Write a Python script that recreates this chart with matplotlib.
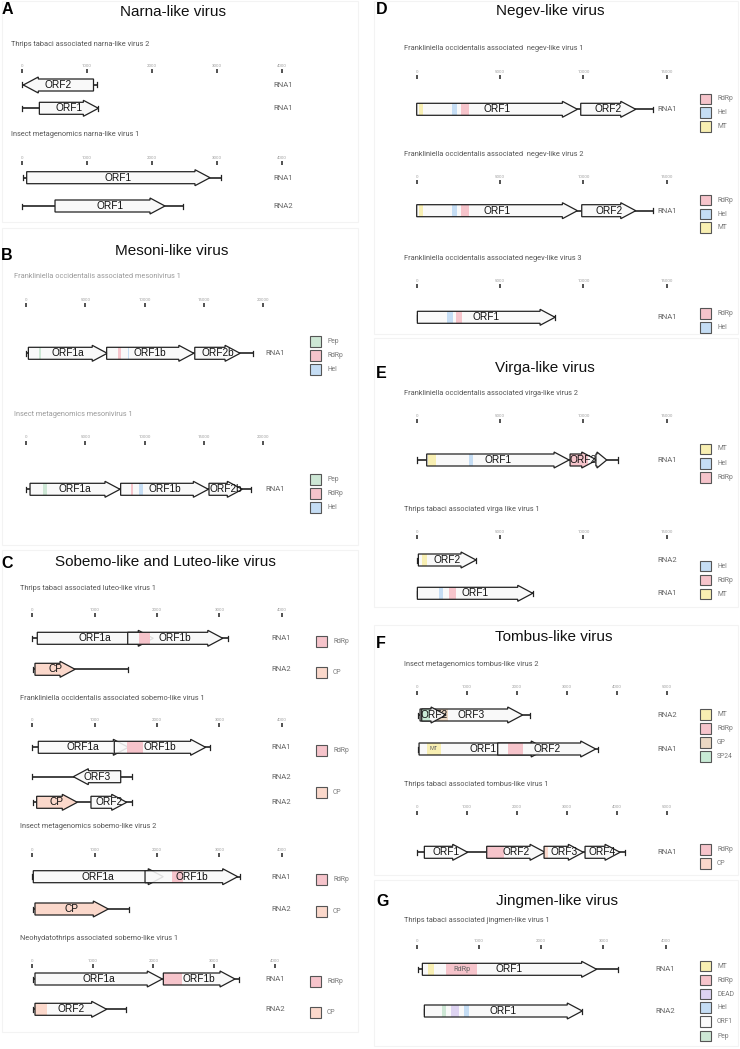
import numpy as np
import matplotlib
matplotlib.use("Agg")
import matplotlib.pyplot as plt
from matplotlib.patches import Polygon, Rectangle

W, H = 740, 1049

# colours of the annotated domains
DOMAIN_COLORS = {
    "RdRp": "#f6c4cb",
    "Hel": "#c5ddf4",
    "MT": "#f8efb2",
    "Pep": "#cde7d5",
    "CP": "#fbd8cb",
    "DEAD": "#ddd3f1",
    "GP": "#ebd8c3",
    "SP24": "#c9ebd6",
    "ORF1": "#fafafa",
}

# ---------------- data (nt positions) ----------------
# each row: (segment, (line start, line end), [(orf, start, end, strand, [(domain, start, end)])])

# A  Narna-like virus
narna_tt2_rows = [
    ("RNA1", (0, 1150), [("ORF2", 20, 1100, -1, [])]),
    ("RNA1", (0, 1175), [("ORF1", 267, 1175, 1, [])]),
]
narna_im1_rows = [
    ("RNA1", (10, 3060), [("ORF1", 72, 2892, 1, [])]),
    ("RNA2", (0, 2470), [("ORF1", 508, 2200, 1, [])]),
]

# B  Mesoni-like virus
meso_fo1_rows = [
    ("RNA1", (0, 19160), [("ORF1a", 200, 6850, 1, [("Pep", 1120, 1270)]),
                          ("ORF1b", 6800, 14150, 1, [("RdRp", 7780, 7980), ("Hel", 8570, 8680)]),
                          ("ORF2b", 14230, 18050, 1, [])]),
]
meso_im1_rows = [
    ("RNA1", (0, 19000), [("ORF1a", 340, 7925, 1, [("Pep", 1470, 1750)]),
                          ("ORF1b", 7980, 15375, 1, [("RdRp", 8830, 9050), ("Hel", 9550, 9890)]),
                          ("ORF2b", 15430, 18240, 1, [])]),
]
meso_legend = ["Pep", "RdRp", "Hel"]

# C  Sobemo-like and Luteo-like virus
luteo_tt1_rows = [
    ("RNA1", (0, 3133), [("ORF1a", 80, 1940, 1, []),
                         ("ORF1b", 1530, 3055, 1, [("RdRp", 1716, 1888)])]),
    ("RNA2", (16, 1540), [("CP", 43, 686, 1, [("CP", 43, 686)])]),
]
sobemo_fo1_rows = [
    ("RNA1", (0, 2850), [("ORF1a", 96, 1540, 1, []),
                         ("ORF1b", 1315, 2780, 1, [("RdRp", 1514, 1770)])]),
    ("RNA2", (0, 1604), [("ORF3", 658, 1418, -1, [])]),
    ("RNA2", (16, 1604), [("CP", 70, 722, 1, [("CP", 70, 722)]),
                          ("ORF2", 941, 1514, 1, [])]),
]
sobemo_im2_rows = [
    ("RNA1", (0, 3330), [("ORF1a", 16, 2100, 1, []),
                         ("ORF1b", 1808, 3294, 1, [("RdRp", 2236, 2420)])]),
    ("RNA2", (16, 1545), [("CP", 43, 1219, 1, [("CP", 43, 1219)])]),
]
sobemo_nh1_rows = [
    ("RNA1", (26, 3415), [("ORF1a", 54, 2148, 1, []),
                          ("ORF1b", 2165, 3344, 1, [("RdRp", 2165, 2467)])]),
    ("RNA2", (26, 1551), [("ORF2", 54, 1233, 1, [("CP", 54, 256)])]),
]
sobemo_legend = ["RdRp", "CP"]

# D  Negev-like virus
negev1_rows = [
    ("RNA1", (0, 14200), [("ORF1", 0, 9640, 1, [("MT", 160, 400), ("Hel", 2100, 2440), ("RdRp", 2640, 3120)]),
                          ("ORF2", 9840, 13140, 1, [])]),
]
negev2_rows = [
    ("RNA1", (0, 14200), [("ORF1", 0, 9640, 1, [("MT", 160, 400), ("Hel", 2100, 2440), ("RdRp", 2640, 3120)]),
                          ("ORF2", 9900, 13140, 1, [])]),
]
negev3_rows = [
    ("RNA1", (40, 8300), [("ORF1", 40, 8300, 1, [("Hel", 1840, 2160), ("RdRp", 2360, 2700)])]),
]
negev_legend = ["RdRp", "Hel", "MT"]

# E  Virga-like virus
virga_fo2_rows = [
    ("RNA1", (0, 12100), [("ORF1", 600, 9140, 1, [("MT", 700, 1140), ("Hel", 3120, 3360)]),
                          ("ORF2", 9200, 10800, 1, [("RdRp", 9200, 10300)]),
                          ("", 10750, 11400, 1, [])]),
]
virga_tt1_rows = [
    ("RNA2", (0, 3560), [("ORF2", 100, 3560, 1, [("MT", 300, 640)])]),
    ("RNA1", (40, 6960), [("ORF1", 40, 6960, 1, [("Hel", 1360, 1600), ("RdRp", 1940, 2340)])]),
]

# F  Tombus-like virus
tombus_im2_rows = [
    ("RNA2", (20, 2267), [("ORF3", 67, 2120, 1, [("GP", 433, 633)]),
                          ("ORF2", 100, 587, 1, [("SP24", 100, 267)])]),
    ("RNA1", (20, 3633), [("ORF1", 47, 2590, 1, [("MT", 200, 487)]),
                          ("ORF2", 1620, 3580, 1, [("RdRp", 1833, 2120)])]),
]
tombus_tt1_rows = [
    ("RNA1", (0, 4167), [("ORF1", 153, 1020, 1, []),
                         ("ORF2", 1400, 2567, 1, [("RdRp", 1400, 1753)]),
                         ("ORF3", 2547, 3333, 1, [("CP", 2547, 2620)]),
                         ("ORF4", 3367, 4067, 1, [])]),
]

# G  Jingmen-like virus
jingmen_tt1_rows = [
    ("RNA1", (16, 3240), [("ORF1", 91, 2893, 1, [("MT", 187, 284), ("RdRp", 466, 975)])]),
    ("RNA2", (123, 2662), [("ORF1", 123, 2662, 1, [("Pep", 402, 471), ("DEAD", 552, 686), ("Hel", 761, 841)])]),
]
jingmen_legend = ["MT", "RdRp", "DEAD", "Hel", "ORF1", "Pep"]

# domains that carry a small label inside the box
LABELLED_DOMAINS = {("tombus_im2", "MT"), ("jingmen_tt1", "RdRp")}

# ---------------- drawing ----------------
plt.rcParams['font.family'] = ['Roboto', 'DejaVu Sans']
fig = plt.figure(figsize=(W / 100, H / 100), dpi=100)

BH = 6.0      # half height of an ORF body (px)
HH = 8.0      # half height of the arrow head (px)
HEAD_PX = 15  # arrow head length (px)


def ftext(x, y, s, **kw):
    return fig.text(x / W, 1 - y / H, s, **kw)


def frect(x, y, w, h, **kw):
    r = Rectangle((x / W, 1 - (y + h) / H), w / W, h / H, transform=fig.transFigure, **kw)
    fig.add_artist(r)
    return r


def arrow_xy(a, b, strand, y, s):
    hl = min(HEAD_PX / s, 0.9 * (b - a))
    if strand > 0:
        n = b - hl
        xs = [a, n, n, b, n, n, a]
    else:
        n = a + hl
        xs = [b, n, n, a, n, n, b]
    ys = [y - BH, y - BH, y - HH, y, y + HH, y + BH, y + BH]
    return np.column_stack([xs, ys])


def draw_block(key, title, rows, lay, legend=None, legend_ys=None):
    origin, per1000, step, tmax = lay["scale"]
    rule_y = lay["rule"]
    s = per1000 / 1000.0
    last = max(lay["rows"]) + 14

    ftext(lay["sub"][0], lay["sub"][1], title, fontsize=5.3, color=lay.get("subc", "#555555"),
          va="center", ha="left")

    ax = fig.add_axes([origin / W, 1 - last / H, tmax * s / W, (last - rule_y) / H])
    ax.set_xlim(0, tmax)
    ax.set_ylim(last - rule_y, 0)
    ax.xaxis.tick_top()
    ax.set_xticks(np.arange(0, tmax + 1, step))
    ax.tick_params(axis='x', top=True, bottom=False, length=2.6, width=1.1, color='#222222',
                   labelsize=3.2, labelcolor='#a0a0a0', pad=1.3)
    ax.set_yticks([])
    for sp in ax.spines.values():
        sp.set_visible(False)
    ax.patch.set_visible(False)

    for (seg, (g0, g1), orfs), ry in zip(rows, lay["rows"]):
        y = ry - rule_y
        ax.plot([g0, g1], [y, y], color='#222222', lw=1.2, zorder=1, solid_capstyle='butt', clip_on=False)
        for g in (g0, g1):
            ax.plot([g, g], [y - 2.5, y + 2.5], color='#222222', lw=0.9, zorder=1, clip_on=False)
        # white underlay so the genome line doesn't show through the ORFs
        for (lab, a, b, strand, doms) in orfs:
            ax.add_patch(Polygon(arrow_xy(a, b, strand, y, s), closed=True, fc='white', ec='none',
                                 zorder=1.5, clip_on=False))
        for i, (lab, a, b, strand, doms) in enumerate(orfs):
            z = 2 + 3 * i
            xy = arrow_xy(a, b, strand, y, s)
            body = Polygon(xy, closed=True, fc='#f9f9f9', ec='none', alpha=0.88, zorder=z, clip_on=False)
            ax.add_patch(body)
            for dname, d0, d1 in doms:
                r = Rectangle((d0, y - HH), d1 - d0, 2 * HH, fc=DOMAIN_COLORS[dname], ec='none', zorder=z + 1)
                ax.add_patch(r)
                r.set_clip_path(body)
                if (key, dname) in LABELLED_DOMAINS:
                    ax.text((d0 + d1) / 2, y, dname, fontsize=4.0 if dname == "MT" else 5.2,
                            color='#666666', ha='center', va='center', zorder=z + 1.5)
            ax.add_patch(Polygon(xy, closed=True, fc='none', ec='#222222', lw=0.9, zorder=z + 2, clip_on=False))
            if lab:
                ax.text((a + b) / 2, y, lab, family='Liberation Sans', fontsize=7.3, color='#111111',
                        ha='center', va='center', zorder=z + 2.5)
        ftext(lay["rna_x"], ry, seg, fontsize=5.6, color='#666666', ha='center', va='center')

    if legend:
        for name, ly in zip(legend, legend_ys):
            frect(lay["leg_x"], ly - 5.3, 10.6, 10.6, fc=DOMAIN_COLORS[name], ec='#555555', lw=0.8)
            ftext(lay["leg_x"] + 17, ly, name, fontsize=4.9, color='#7a7a7a', ha='left', va='center')


# faint panel frames
for (x0, y0, x1, y1) in [(2, 1, 358, 222), (2, 228, 358, 545), (2, 550, 358, 1032),
                         (374, 1, 738, 334), (374, 338, 738, 607), (374, 625, 738, 875),
                         (374, 880, 738, 1046)]:
    frect(x0, y0, x1 - x0, y1 - y0, fc='none', ec='#f3f3f3', lw=0.8)

# panel letters and titles
panels = [("A", 2, 10, "Narna-like virus", 173, 12),
          ("B", 1, 255, "Mesoni-like virus", 172, 251),
          ("C", 1, 563, "Sobemo-like and Luteo-like virus", 165, 562),
          ("D", 376, 10, "Negev-like virus", 550, 11),
          ("E", 376, 373, "Virga-like virus", 545, 368),
          ("F", 376, 643, "Tombus-like virus", 554, 637),
          ("G", 376, 901, "Jingmen-like virus", 557, 901)]
for letter, lx, ly, ttl, tx, ty in panels:
    ftext(lx, ly, letter, family='Liberation Sans', fontsize=11.5, fontweight='bold', ha='left', va='center')
    ftext(tx, ty, ttl, family='Liberation Sans', fontsize=11, ha='center', va='center', color='#111111')

LEFT_A = (22, 65, 1000, 4000)
LEFT_B = (26, 11.86, 5000, 20000)
LEFT_C = (32.3, 62.35, 1000, 4000)
LEFT_C4 = (31.7, 60.8, 1000, 4000)
RIGHT_DE = (416.7, 16.67, 5000, 15000)
RIGHT_F = (416.7, 50, 1000, 5000)
RIGHT_G = (416.7, 62.2, 1000, 4000)

draw_block("narna_tt2", "Thrips tabaci associated narna-like virus 2", narna_tt2_rows,
           dict(scale=LEFT_A, rule=73, rows=[85, 108.3], sub=(11, 44), rna_x=283))
draw_block("narna_im1", "Insect metagenomics narna-like virus 1", narna_im1_rows,
           dict(scale=LEFT_A, rule=165, rows=[177.7, 206], sub=(11, 134.7), rna_x=283))

draw_block("meso_fo1", "Frankliniella occidentalis associated mesonivirus 1", meso_fo1_rows,
           dict(scale=LEFT_B, rule=307, rows=[353.3], sub=(14, 276.7), rna_x=275, leg_x=310, subc='#9a9a9a'),
           meso_legend, [341.7, 355.7, 369.7])
draw_block("meso_im1", "Insect metagenomics mesonivirus 1", meso_im1_rows,
           dict(scale=LEFT_B, rule=444.5, rows=[489.3], sub=(14, 414.7), rna_x=275, leg_x=310, subc='#9a9a9a'),
           meso_legend, [479.3, 493.3, 507.3])

draw_block("luteo_tt1", "Thrips tabaci associated luteo-like virus 1", luteo_tt1_rows,
           dict(scale=LEFT_C, rule=617, rows=[638.3, 669.3], sub=(20, 588.3), rna_x=281, leg_x=316),
           sobemo_legend, [641.7, 672.3])
draw_block("sobemo_fo1", "Frankliniella occidentalis associated sobemo-like virus 1", sobemo_fo1_rows,
           dict(scale=LEFT_C, rule=727, rows=[747.3, 776.7, 802.3], sub=(20, 698), rna_x=281, leg_x=316),
           sobemo_legend, [750.7, 792.7])
draw_block("sobemo_im2", "Insect metagenomics sobemo-like virus 2", sobemo_im2_rows,
           dict(scale=LEFT_C, rule=857, rows=[876.7, 909], sub=(20, 826), rna_x=281, leg_x=316),
           sobemo_legend, [879.3, 911.7])
draw_block("sobemo_nh1", "Neohydatothrips associated sobemo-like virus 1", sobemo_nh1_rows,
           dict(scale=LEFT_C4, rule=968, rows=[979, 1009.3], sub=(20, 938.3), rna_x=275, leg_x=310),
           sobemo_legend, [981.7, 1012.7])

draw_block("negev1", "Frankliniella occidentalis associated  negev-like virus 1", negev1_rows,
           dict(scale=RIGHT_DE, rule=79, rows=[109.3], sub=(404.3, 49), rna_x=667, leg_x=700),
           negev_legend, [99, 112.7, 126.7])
draw_block("negev2", "Frankliniella occidentalis associated  negev-like virus 2", negev2_rows,
           dict(scale=RIGHT_DE, rule=184, rows=[210.7], sub=(404.3, 154.3), rna_x=667, leg_x=700),
           negev_legend, [200, 214, 227.7])
draw_block("negev3", "Frankliniella occidentalis associated negev-like virus 3", negev3_rows,
           dict(scale=RIGHT_DE, rule=288, rows=[317.3], sub=(404.3, 258.3), rna_x=667, leg_x=700),
           ["RdRp", "Hel"], [313.3, 327.3])

draw_block("virga_fo2", "Frankliniella occidentalis associated virga-like virus 2", virga_fo2_rows,
           dict(scale=RIGHT_DE, rule=423.5, rows=[460], sub=(404.3, 393.3), rna_x=667, leg_x=700),
           ["MT", "Hel", "RdRp"], [449, 463.3, 477.3])
draw_block("virga_tt1", "Thrips tabaci associated virga like virus 1", virga_tt1_rows,
           dict(scale=RIGHT_DE, rule=539, rows=[560, 593.3], sub=(404.3, 509.3), rna_x=667, leg_x=700),
           ["Hel", "RdRp", "MT"], [566, 580, 594])

draw_block("tombus_im2", "Insect metagenomics tombus-like virus 2", tombus_im2_rows,
           dict(scale=RIGHT_F, rule=694.5, rows=[715, 749], sub=(404.3, 664.7), rna_x=667, leg_x=700),
           ["MT", "RdRp", "GP", "SP24"], [714.3, 728.3, 742.3, 756.7])
draw_block("tombus_tt1", "Thrips tabaci associated tombus-like virus 1", tombus_tt1_rows,
           dict(scale=RIGHT_F, rule=814.5, rows=[852.3], sub=(404.3, 785), rna_x=667, leg_x=700),
           ["RdRp", "CP"], [849.3, 863.3])

draw_block("jingmen_tt1", "Thrips tabaci associated jingmen-like virus 1", jingmen_tt1_rows,
           dict(scale=RIGHT_G, rule=948.5, rows=[969.3, 1011], sub=(404.3, 920), rna_x=665, leg_x=700),
           jingmen_legend, [966, 980, 994, 1007.3, 1021.7, 1036])

fig.savefig("out.png", dpi=100)
